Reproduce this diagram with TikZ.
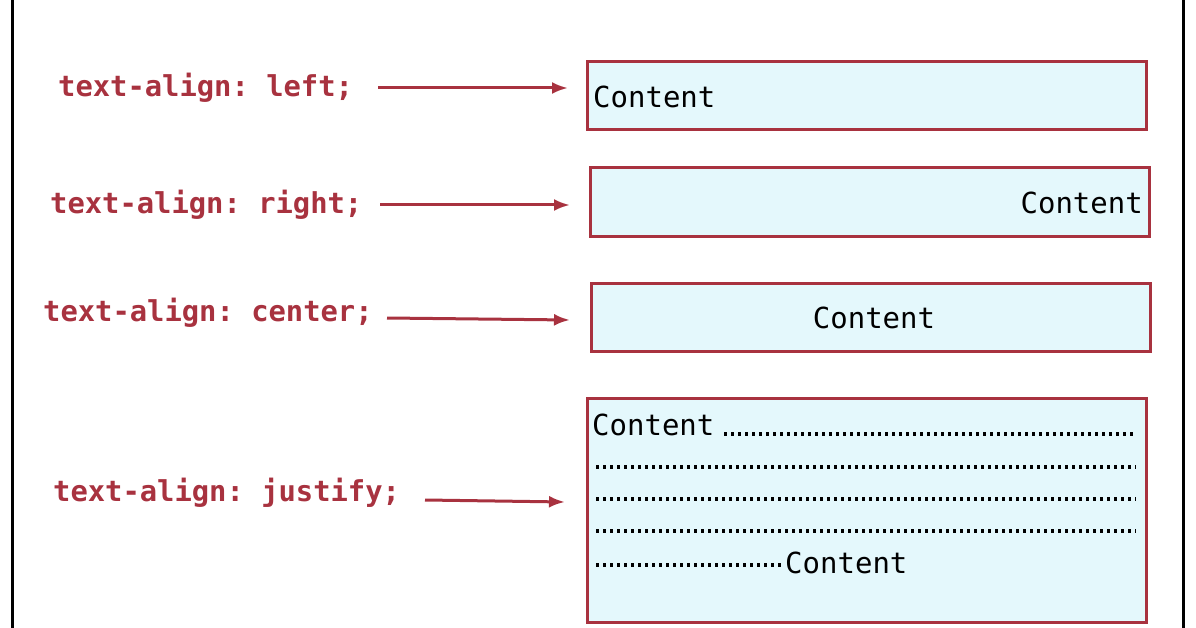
\documentclass[tikz,border=0pt]{standalone}
\usepackage{fontspec}
\setmonofont{DejaVu Sans Mono}
\usetikzlibrary{arrows.meta}
\definecolor{cred}{HTML}{A8323F}
\definecolor{cfill}{HTML}{E4F8FC}
\begin{document}
\begin{tikzpicture}[x=1pt,y=-1pt,
  lbl/.style={font=\ttfamily\bfseries\fontsize{28.8}{32}\selectfont,text=cred,inner sep=0},
  txt/.style={font=\ttfamily\fontsize{29}{32}\selectfont,inner sep=0},
  box/.style={draw=cred,line width=3pt,fill=cfill},
  arr/.style={draw=cred,line width=3pt,-{Latex[length=16pt,width=12pt]}},
  dots/.style={line width=3.2pt,dash pattern=on 3pt off 4pt}]
\useasboundingbox (0,0) rectangle (1196,628);
\draw[line width=3pt] (12,-10) -- (12,640);
\draw[line width=3pt] (1183,-10) -- (1183,640);
\path[box] (587,62) rectangle (1146,130);
\path[box] (590,168) rectangle (1149,237);
\path[box] (591,283) rectangle (1150,351);
\path[box] (587,398) rectangle (1146,622);
\node[lbl,anchor=west] (l1) at (58,88) {text-align: left;};
\node[lbl,anchor=west] (l2) at (50,205) {text-align: right;};
\node[lbl,anchor=west] (l3) at (43,313) {text-align: center;};
\node[lbl,anchor=west] (l4) at (53,493) {text-align: justify;};
\coordinate (s1) at (378,88); \coordinate (t1) at (568,88);
\coordinate (s2) at (380,205); \coordinate (t2) at (570,205);
\coordinate (s3) at (387,318); \coordinate (t3) at (570,320);
\coordinate (s4) at (425,500); \coordinate (t4) at (565,502);
\draw[arr] (s1) -- (t1);
\draw[arr] (s2) -- (t2);
\draw[arr] (s3) -- (t3);
\draw[arr] (s4) -- (t4);
\node[txt,anchor=west] (c1) at (593,97) {Content};
\node[txt,anchor=east] (c2) at (1143,203) {Content};
\node[txt] (c3) at (874,318) {Content};
\node[txt,anchor=west] (c4) at (592,425) {Content};
\node[txt,anchor=west] (c5) at (785,563) {Content};
\draw[dots] (724,434) -- (1134,434);
\draw[dots] (596,467) -- (1136,467);
\draw[dots] (596,499) -- (1136,499);
\draw[dots] (596,531) -- (1136,531);
\draw[dots] (596,565) -- (782,565);
\end{tikzpicture}
\end{document}
